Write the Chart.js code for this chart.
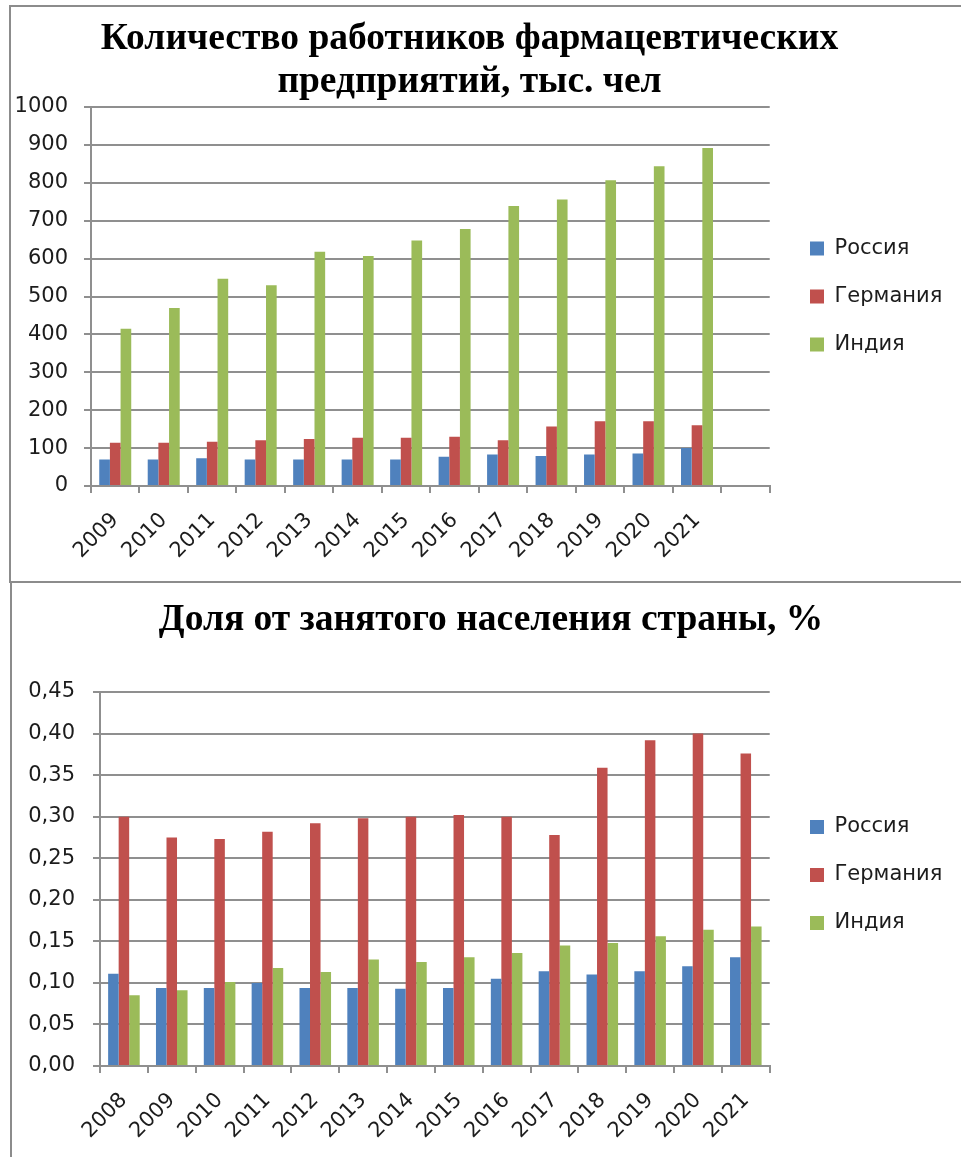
<!DOCTYPE html>
<html lang="ru">
<head>
<meta charset="utf-8">
<title>Фармацевтические предприятия</title>
<script src="https://cdn.jsdelivr.net/npm/chart.js@4.4.1/dist/chart.umd.min.js"></script>
<style>
  html, body { margin: 0; padding: 0; background: #fff; }
  body { position: relative; width: 961px; height: 1157px; overflow: hidden; }
  .frame { position: absolute; box-sizing: border-box; border: 2px solid #8c8c8c; border-right: none; }
  #frameTop { left: 9px; top: 5px; width: 960px; height: 578px; }
  #frameBottom { left: 10px; top: 583px; width: 960px; height: 600px; border-top: none; border-bottom: none; }
  canvas { position: absolute; left: 0; }
  #workers { top: 0; }
  #share { top: 585px; }
</style>
</head>
<body>
<div class="frame" id="frameTop"></div>
<div class="frame" id="frameBottom"></div>
<canvas id="workers" width="961" height="580"></canvas>
<canvas id="share" width="961" height="572"></canvas>
<script>
// Численность работников, тыс. чел (последняя категория оси пустая)
const workerYears = ['2009', '2010', '2011', '2012', '2013', '2014', '2015', '2016', '2017', '2018', '2019', '2020', '2021', ''];
const workerRussia = [70, 70, 73, 70, 70, 70, 70, 77, 83, 79, 83, 86, 100];
const workerGermany = [114, 114, 117, 121, 124, 127, 127, 130, 121, 157, 171, 171, 160];
const workerIndia = [415, 470, 547, 530, 618, 607, 648, 678, 739, 756, 807, 844, 892];
const workerTicks = [0, 100, 200, 300, 400, 500, 600, 700, 800, 900, 1000];

// Доля от занятого населения, %
const shareYears = ['2008', '2009', '2010', '2011', '2012', '2013', '2014', '2015', '2016', '2017', '2018', '2019', '2020', '2021'];
const shareRussia = [0.111, 0.094, 0.094, 0.100, 0.094, 0.094, 0.093, 0.094, 0.105, 0.114, 0.110, 0.114, 0.120, 0.131];
const shareGermany = [0.300, 0.275, 0.273, 0.282, 0.292, 0.298, 0.300, 0.302, 0.300, 0.278, 0.359, 0.392, 0.400, 0.376];
const shareIndia = [0.085, 0.091, 0.101, 0.118, 0.113, 0.128, 0.125, 0.131, 0.136, 0.145, 0.148, 0.156, 0.164, 0.168];
const shareTicks = [0, 0.05, 0.10, 0.15, 0.20, 0.25, 0.30, 0.35, 0.40, 0.45];

const seriesNames = ['Россия', 'Германия', 'Индия'];
const seriesColors = ['#4f81bd', '#c0504d', '#9bbb59'];

const SANS = 'DejaVu Sans';
const GRID = '#8f8f8f';
const TEXT = '#1c1c1c';

// after the layout pass: put the legend column at a fixed x and
// slide the title sideways so it is not centred on the whole canvas
const placeBoxes = {
  id: 'placeBoxes',
  afterLayout(chart, args, opts) {
    const lg = chart.legend;
    const dx = opts.legendX - (lg.left + lg.options.labels.padding);
    lg.left += dx; lg.right += dx;
    lg.top += opts.legendDy; lg.bottom += opts.legendDy;
    const tb = chart.titleBlock;
    tb.left += opts.titleDx; tb.right += opts.titleDx;
  }
};

function bars(values, i) {
  return {
    label: seriesNames[i],
    data: values,
    backgroundColor: seriesColors[i],
    borderWidth: 0,
    barPercentage: 1,
    categoryPercentage: 0.66
  };
}

function options(cfg) {
  return {
    responsive: false,
    animation: false,
    layout: { padding: { left: 0, right: cfg.padR, top: 0, bottom: 0 } },
    plugins: {
      title: {
        display: true,
        text: cfg.title,
        color: '#000',
        font: { family: 'Liberation Serif', size: 37.5, weight: 'bold', lineHeight: 1.147 },
        padding: { top: cfg.titleTop, bottom: cfg.titleBottom }
      },
      legend: {
        position: 'right',
        labels: { color: TEXT, font: { family: SANS, size: 21 }, boxWidth: 14, boxHeight: 14, padding: 27 }
      },
      placeBoxes: { legendX: 810, legendDy: cfg.legendDy, titleDx: cfg.titleDx },
      tooltip: { enabled: false }
    },
    scales: {
      x: {
        grid: { drawOnChartArea: false, drawTicks: true, tickLength: 7, color: GRID, lineWidth: 2, offset: true },
        border: { color: GRID, width: 2 },
        ticks: { color: TEXT, font: { family: SANS, size: 21 }, minRotation: 45, maxRotation: 45, autoSkip: false, padding: cfg.xPad },
        afterFit: s => { s.height = cfg.xHeight; }
      },
      y: {
        min: cfg.ticks[0],
        max: cfg.ticks[cfg.ticks.length - 1],
        afterBuildTicks: s => { s.ticks = cfg.ticks.map(v => ({ value: v })); },
        grid: { color: GRID, lineWidth: 2, tickLength: 7 },
        border: { color: GRID, width: 2 },
        ticks: { color: TEXT, font: { family: SANS, size: 21 }, padding: cfg.yPad, callback: cfg.fmt },
        afterFit: s => { s.width = cfg.yWidth; }
      }
    }
  };
}

new Chart(document.getElementById('workers'), {
  type: 'bar',
  data: {
    labels: workerYears,
    datasets: [bars(workerRussia, 0), bars(workerGermany, 1), bars(workerIndia, 2)]
  },
  options: options({
    title: ['Количество работников фармацевтических', 'предприятий, тыс. чел'],
    titleTop: 18, titleBottom: 3, titleDx: 0,
    padR: 22, yWidth: 91, yPad: 16,
    xHeight: 94, xPad: 15,
    legendDy: 6.5,
    ticks: workerTicks,
    fmt: v => String(v)
  }),
  plugins: [placeBoxes]
});

new Chart(document.getElementById('share'), {
  type: 'bar',
  data: {
    labels: shareYears,
    datasets: [bars(shareRussia, 0), bars(shareGermany, 1), bars(shareIndia, 2)]
  },
  options: options({
    title: 'Доля от занятого населения страны, %',
    titleTop: 14, titleBottom: 50, titleDx: 21.5,
    padR: 22, yWidth: 100, yPad: 18,
    xHeight: 91, xPad: 15,
    legendDy: 4,
    ticks: shareTicks,
    fmt: v => v.toFixed(2).replace('.', ',')
  }),
  plugins: [placeBoxes]
});
</script>
</body>
</html>
